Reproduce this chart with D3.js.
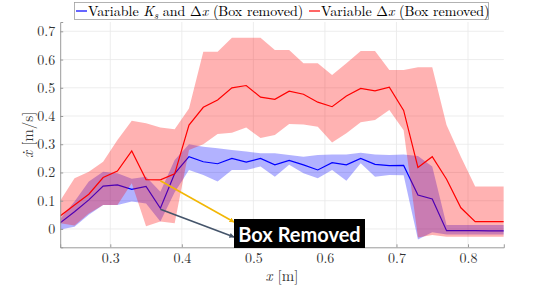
<!DOCTYPE html>
<html lang="en">
  <head>
    <meta charset="UTF-8" />
    <script src="https://d3js.org/d3.v7.min.js"></script>
    <title>Box removed velocity</title>
    <style>
      body { margin: 0; background: #fff; }
    </style>
  </head>
  <body>
    <svg id="chart" width="538" height="287"></svg>
    <script>
      // x positions [m]
      var xs = [0.23, 0.25, 0.27, 0.29, 0.31, 0.33, 0.35, 0.37, 0.39, 0.41, 0.43,
        0.45, 0.47, 0.49, 0.51, 0.53, 0.55, 0.57, 0.59, 0.61, 0.63, 0.65, 0.67,
        0.69, 0.71, 0.73, 0.75, 0.77, 0.79, 0.81, 0.83, 0.85];

      // Variable Ks and dx (blue)
      var blueMean = [0.022, 0.061, 0.103, 0.152, 0.156, 0.140, 0.151, 0.073, 0.196,
        0.256, 0.238, 0.231, 0.250, 0.237, 0.250, 0.227, 0.243, 0.227, 0.209, 0.235,
        0.227, 0.250, 0.229, 0.224, 0.225, 0.120, 0.106, -0.006, -0.006, -0.006,
        -0.007, -0.007];
      var blueUpper = [0.035, 0.097, 0.168, 0.203, 0.197, 0.178, 0.185, 0.132, 0.244,
        0.300, 0.291, 0.286, 0.280, 0.274, 0.268, 0.268, 0.262, 0.256, 0.262, 0.264,
        0.264, 0.270, 0.264, 0.262, 0.264, 0.258, 0.221, 0.014, 0.014, 0.014, 0.014,
        0.014];
      var blueLower = [-0.002, 0.008, 0.050, 0.085, 0.085, 0.097, 0.090, 0.026, 0.130,
        0.209, 0.191, 0.168, 0.209, 0.209, 0.221, 0.185, 0.227, 0.197, 0.180, 0.209,
        0.171, 0.233, 0.185, 0.191, 0.190, -0.037, -0.012, -0.020, -0.020, -0.020,
        -0.020, -0.020];

      // Variable dx (red)
      var redMean = [0.046, 0.085, 0.123, 0.182, 0.205, 0.276, 0.175, 0.174, 0.195,
        0.368, 0.431, 0.457, 0.500, 0.508, 0.467, 0.459, 0.488, 0.477, 0.449, 0.433,
        0.471, 0.498, 0.489, 0.502, 0.420, 0.218, 0.256, 0.176, 0.075, 0.026, 0.026,
        0.026];
      var redUpper = [0.100, 0.180, 0.203, 0.238, 0.315, 0.383, 0.374, 0.359, 0.353,
        0.427, 0.628, 0.628, 0.677, 0.677, 0.677, 0.634, 0.634, 0.587, 0.587, 0.545,
        0.587, 0.630, 0.630, 0.563, 0.563, 0.573, 0.573, 0.368, 0.256, 0.150, 0.150,
        0.150];
      var redLower = [0.020, 0.012, 0.055, 0.085, 0.085, 0.162, 0.010, 0.026, 0.020,
        0.280, 0.300, 0.336, 0.341, 0.359, 0.322, 0.333, 0.372, 0.370, 0.362, 0.306,
        0.339, 0.378, 0.386, 0.421, 0.350, -0.030, -0.021, -0.028, -0.028, -0.028,
        -0.028, -0.028];

      var xTicks = [0.3, 0.4, 0.5, 0.6, 0.7, 0.8];
      var yTicks = [0, 0.1, 0.2, 0.3, 0.4, 0.5, 0.6, 0.7];

      var svg = d3.select('#chart');
      var pLeft = 60.2, pRight = 503.8, pTop = 22, pBottom = 247.3;

      var x = d3.scaleLinear().domain([0.23, 0.85]).range([pLeft, pRight]);
      var y = d3.scaleLinear().domain([-0.065, 0.733]).range([pBottom, pTop]);

      var serif = '"Latin Modern Roman", "DejaVu Serif", serif';
      var textColor = '#333333';

      var defs = svg.append('defs');
      defs.append('clipPath').attr('id', 'plotclip')
        .append('rect')
        .attr('x', pLeft).attr('y', pTop)
        .attr('width', pRight - pLeft).attr('height', pBottom - pTop);

      // grid
      var grid = svg.append('g').attr('stroke', '#e8e8e8').attr('stroke-width', 0.8);
      grid.selectAll('line.gx').data(xTicks).enter().append('line')
        .attr('x1', d => x(d)).attr('x2', d => x(d))
        .attr('y1', pTop).attr('y2', pBottom);
      grid.selectAll('line.gy').data(yTicks).enter().append('line')
        .attr('x1', pLeft).attr('x2', pRight)
        .attr('y1', d => y(d)).attr('y2', d => y(d));

      var rows = xs.map(function(v, i) {
        return { x: v, bm: blueMean[i], bu: blueUpper[i], bl: blueLower[i],
          rm: redMean[i], ru: redUpper[i], rl: redLower[i] };
      });

      var plot = svg.append('g').attr('clip-path', 'url(#plotclip)');

      var blueArea = d3.area().x(d => x(d.x)).y0(d => y(d.bl)).y1(d => y(d.bu));
      var redArea = d3.area().x(d => x(d.x)).y0(d => y(d.rl)).y1(d => y(d.ru));
      var blueLine = d3.line().x(d => x(d.x)).y(d => y(d.bm));
      var redLine = d3.line().x(d => x(d.x)).y(d => y(d.rm));

      plot.append('path').datum(rows).attr('d', blueArea)
        .attr('fill', '#0000ff').attr('fill-opacity', 0.3);
      plot.append('path').datum(rows).attr('d', blueLine)
        .attr('fill', 'none').attr('stroke', '#0000ff').attr('stroke-width', 1.2);
      plot.append('path').datum(rows).attr('d', redArea)
        .attr('fill', '#ff0000').attr('fill-opacity', 0.3);
      plot.append('path').datum(rows).attr('d', redLine)
        .attr('fill', 'none').attr('stroke', '#ff0000').attr('stroke-width', 1.2);

      // axes
      var yAxis = svg.append('g').attr('transform', 'translate(' + pLeft + ',0)')
        .call(d3.axisLeft(y).tickValues(yTicks).tickSize(-3).tickPadding(5)
          .tickFormat(d3.format('')));
      var xAxis = svg.append('g').attr('transform', 'translate(0,' + pBottom + ')')
        .call(d3.axisBottom(x).tickValues(xTicks).tickSize(-3).tickPadding(6)
          .tickFormat(d3.format('')));
      [xAxis, yAxis].forEach(function(a) {
        a.select('.domain').attr('stroke', '#9a9a9a');
        a.selectAll('.tick line').attr('stroke', '#9a9a9a');
        a.selectAll('.tick text').attr('font-family', serif).attr('font-size', 14)
          .attr('fill', textColor);
      });

      // axis labels
      var xl = svg.append('text').attr('x', (pLeft + pRight) / 2).attr('y', 281)
        .attr('text-anchor', 'middle').attr('font-family', serif)
        .attr('font-size', 15).attr('fill', textColor);
      xl.append('tspan').attr('font-style', 'italic').text('x');
      xl.append('tspan').text(' [m]');

      var yl = svg.append('text')
        .attr('transform', 'translate(33,' + ((pTop + pBottom) / 2) + ') rotate(-90)')
        .attr('text-anchor', 'middle').attr('font-family', serif)
        .attr('font-size', 15).attr('fill', textColor);
      yl.append('tspan').attr('font-style', 'italic').text('\u1E8B');
      yl.append('tspan').text(' [m/s]');

      // annotation arrows
      [['arrY', '#f2b705'], ['arrG', '#44546a']].forEach(function(a) {
        defs.append('marker').attr('id', a[0]).attr('viewBox', '0 0 10 10')
          .attr('refX', 9).attr('refY', 5).attr('markerWidth', 5).attr('markerHeight', 5)
          .attr('orient', 'auto').attr('markerUnits', 'userSpaceOnUse')
          .append('path').attr('d', 'M0,0L10,5L0,10z').attr('fill', a[1]);
      });
      svg.append('line')
        .attr('x1', x(0.37)).attr('y1', y(redMean[7]) + 1)
        .attr('x2', 234).attr('y2', 222)
        .attr('stroke', '#f2b705').attr('stroke-width', 1.6)
        .attr('marker-end', 'url(#arrY)');
      svg.append('line')
        .attr('x1', x(0.37)).attr('y1', y(blueMean[7]) + 1)
        .attr('x2', 234).attr('y2', 237)
        .attr('stroke', '#44546a').attr('stroke-width', 1.6)
        .attr('marker-end', 'url(#arrG)');

      svg.append('rect').attr('x', 234).attr('y', 219).attr('width', 131).attr('height', 29)
        .attr('fill', '#000');
      svg.append('text').attr('x', 299.5).attr('y', 241.5)
        .attr('text-anchor', 'middle').attr('font-family', 'Lato, "Open Sans", sans-serif')
        .attr('font-weight', 'bold').attr('font-size', 20).attr('fill', '#fff')
        .text('Box Removed');

      // legend
      var lg = svg.append('g');
      lg.append('rect').attr('x', 74.5).attr('y', 2.5).attr('width', 414).attr('height', 17)
        .attr('fill', '#fff').attr('stroke', '#a0a0a0').attr('stroke-width', 0.8);
      lg.append('line').attr('x1', 76).attr('x2', 87).attr('y1', 11).attr('y2', 11)
        .attr('stroke', '#0000ff').attr('stroke-width', 1.2);
      var t1 = lg.append('text').attr('x', 88).attr('y', 15.5)
        .attr('font-family', serif).attr('font-size', 14).attr('fill', '#000');
      t1.append('tspan').text('Variable ');
      t1.append('tspan').attr('font-style', 'italic').text('K');
      t1.append('tspan').attr('font-style', 'italic').attr('font-size', 10).attr('dy', 3).text('s');
      t1.append('tspan').attr('dy', -3).text(' and \u0394');
      t1.append('tspan').attr('font-style', 'italic').text('x');
      t1.append('tspan').text(' (Box removed)');
      lg.append('line').attr('x1', 309).attr('x2', 320).attr('y1', 11).attr('y2', 11)
        .attr('stroke', '#ff0000').attr('stroke-width', 1.2);
      var t2 = lg.append('text').attr('x', 321).attr('y', 15.5)
        .attr('font-family', serif).attr('font-size', 14).attr('fill', '#000');
      t2.append('tspan').text('Variable \u0394');
      t2.append('tspan').attr('font-style', 'italic').text('x');
      t2.append('tspan').text(' (Box removed)');
    </script>
  </body>
</html>
